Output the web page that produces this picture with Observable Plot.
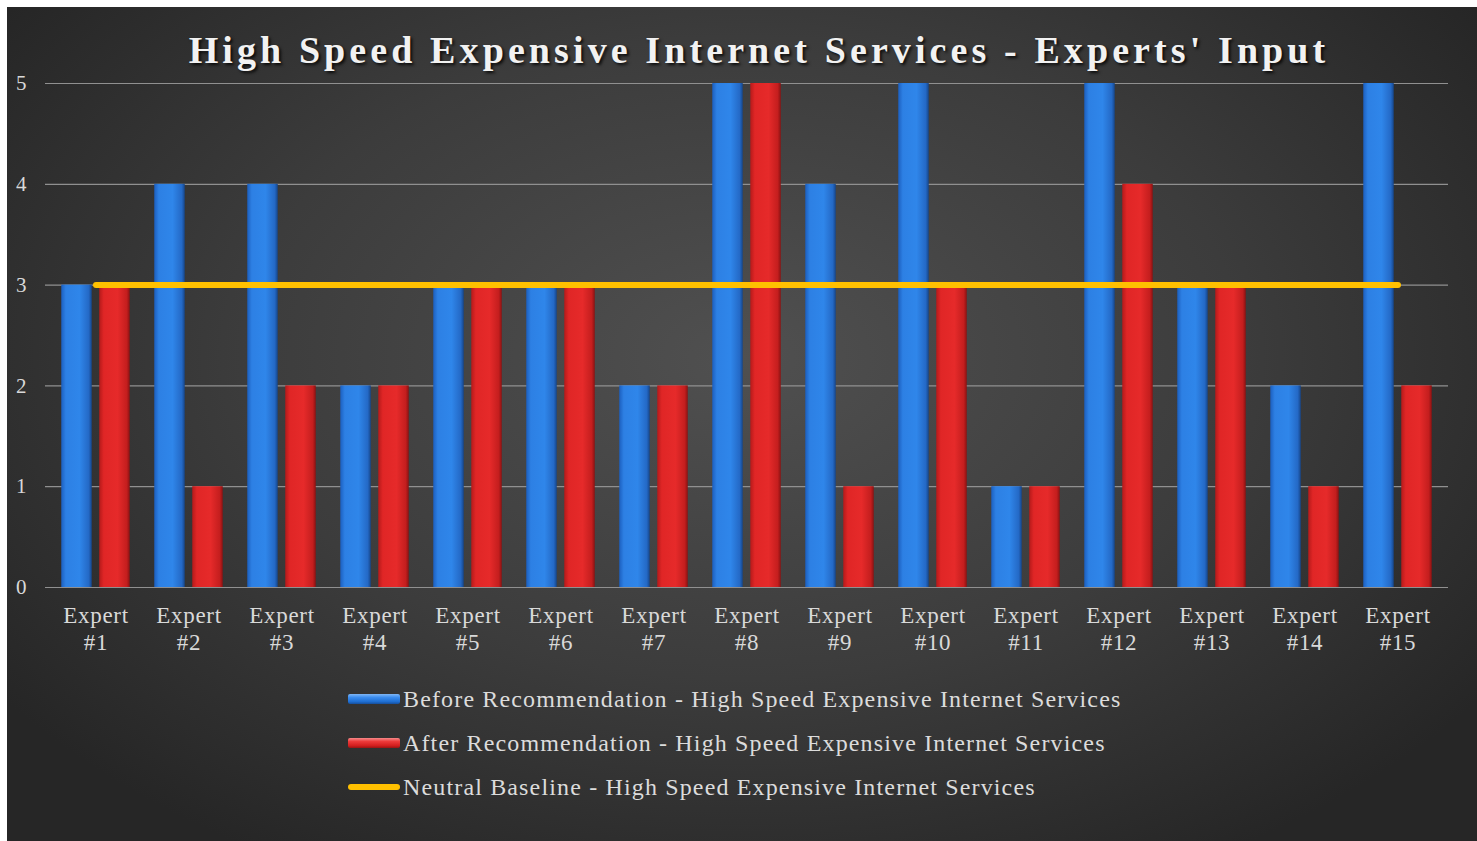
<!DOCTYPE html>
<html>
<head>
<meta charset="utf-8">
<script src="https://cdn.jsdelivr.net/npm/d3@7"></script>
<script src="https://cdn.jsdelivr.net/npm/@observablehq/plot@0.6"></script>
<style>
  html, body { margin: 0; padding: 0; background: #ffffff; }
  #card {
    position: absolute; left: 7px; top: 7px; width: 1470px; height: 834px;
    background: radial-gradient(ellipse 62% 70% at 50% 42%, #505050 0%, #3c3c3c 55%, #262626 100%);
    font-family: "Liberation Serif", "Times New Roman", serif;
    overflow: hidden;
  }
  #title {
    height: 60px; box-sizing: border-box; padding-top: 24px; padding-left: 34px;
    text-align: center; font-size: 38px; line-height: 38px; font-weight: bold;
    letter-spacing: 4.1px; color: #f2f2f2; white-space: nowrap;
    text-shadow: 2px 2px 3px rgba(0,0,0,0.8);
  }
  #chart svg { display: block; }
  #chart svg g[aria-label="x-axis tick label"] text { letter-spacing: 0.7px; }
  #legend { padding-top: 10px; padding-left: 341px; }
  .row { height: 44px; display: flex; align-items: center; font-size: 24px; letter-spacing: 1.15px; color: #dcdcdc; white-space: nowrap; }
  .sw { width: 52px; height: 10px; margin-right: 3px; border-radius: 2px; flex: none; }
  .sw.blue { background: linear-gradient(#7fb6f5 0%, #3a8cee 35%, #1f6fd3 75%, #164f9c 100%); }
  .sw.red { background: linear-gradient(#f58a8a 0%, #ec3a3a 35%, #d31f1f 75%, #9a1414 100%); }
  .sw.yellow { height: 6px; border-radius: 3px; background: #ffc000; }
</style>
</head>
<body>
<div id="card">
  <div id="title">High Speed Expensive Internet Services - Experts' Input</div>
  <div id="chart"></div>
  <div id="legend">
    <div class="row"><div class="sw blue"></div><span>Before Recommendation - High Speed Expensive Internet Services</span></div>
    <div class="row"><div class="sw red"></div><span>After Recommendation - High Speed Expensive Internet Services</span></div>
    <div class="row"><div class="sw yellow"></div><span>Neutral Baseline - High Speed Expensive Internet Services</span></div>
  </div>
</div>
<script>
const experts = ["Expert #1","Expert #2","Expert #3","Expert #4","Expert #5","Expert #6","Expert #7","Expert #8","Expert #9","Expert #10","Expert #11","Expert #12","Expert #13","Expert #14","Expert #15"];
const before = [3,4,4,2,3,3,2,5,4,5,1,5,3,2,5];
const after = [3,1,2,2,3,3,2,5,1,3,1,4,3,1,2];
const baseline = [3,3,3,3,3,3,3,3,3,3,3,3,3,3,3];
const yTicks = [0,1,2,3,4,5];

const data = experts.map((e, i) => ({expert: e, before: before[i], after: after[i], baseline: baseline[i]}));

const svg = Plot.plot({
  width: 1470,
  height: 600,
  marginLeft: 38,
  marginRight: 29,
  marginTop: 16,
  marginBottom: 80,
  style: {background: "transparent", color: "#d9d9d9", fontFamily: "'Liberation Serif', 'Times New Roman', serif", overflow: "visible"},
  x: {domain: experts, padding: 0, label: null},
  y: {domain: [0, 5], label: null},
  marks: [
    Plot.gridY(yTicks, {stroke: "#909090", strokeOpacity: 1, strokeWidth: 1.2}),
    Plot.barY(data, {x: "expert", y: "before", fill: "url(#gBlue)", insetLeft: 12.25, insetRight: 50.25}),
    Plot.barY(data, {x: "expert", y: "after", fill: "url(#gRed)", insetLeft: 50.25, insetRight: 12.25}),
    Plot.lineY(data, {x: "expert", y: "baseline", stroke: "#ffc000", strokeWidth: 6, strokeLinecap: "round"}),
    Plot.axisY(yTicks, {tickSize: 0, tickPadding: 19, fontSize: 21, fill: "#d9d9d9", label: null, tickFormat: d => String(d)}),
    Plot.axisX({tickSize: 0, tickPadding: 16, fontSize: 23, lineHeight: 1.18, fill: "#d9d9d9", label: null,
      tickFormat: d => d.replace(" ", "\n")})
  ]
});
svg.insertAdjacentHTML("afterbegin", `<defs>
  <linearGradient id="gBlue" x1="0" x2="1" y1="0" y2="0">
    <stop offset="0" stop-color="#1c5fbf"/>
    <stop offset="0.15" stop-color="#2d80e4"/>
    <stop offset="0.6" stop-color="#2f86ea"/>
    <stop offset="0.9" stop-color="#2469c6"/>
    <stop offset="1" stop-color="#16468a"/>
  </linearGradient>
  <linearGradient id="gRed" x1="0" x2="1" y1="0" y2="0">
    <stop offset="0" stop-color="#b51a1a"/>
    <stop offset="0.15" stop-color="#e02626"/>
    <stop offset="0.6" stop-color="#e62a2a"/>
    <stop offset="0.9" stop-color="#c41e1e"/>
    <stop offset="1" stop-color="#8a1212"/>
  </linearGradient>
</defs>`);
document.getElementById("chart").appendChild(svg);
</script>
</body>
</html>
